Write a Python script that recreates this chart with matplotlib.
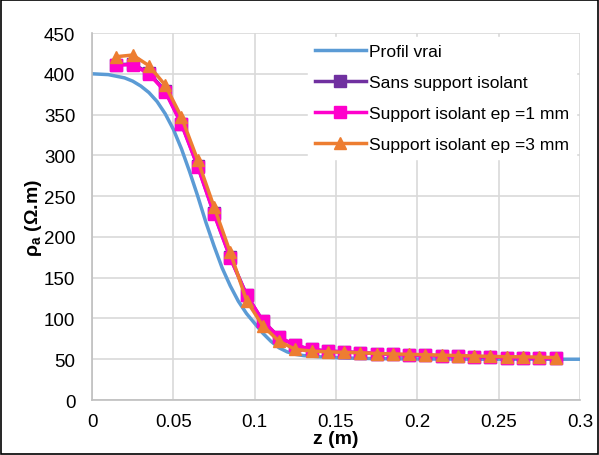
import numpy as np
import matplotlib.pyplot as plt
from matplotlib.patches import Rectangle

plt.rcParams['font.family'] = ['Liberation Sans', 'DejaVu Sans']
plt.rcParams['mathtext.fontset'] = 'custom'
plt.rcParams['mathtext.rm'] = 'Liberation Sans'
plt.rcParams['mathtext.bf'] = 'Liberation Sans:bold'

# true profile
z_true = [0, 0.01, 0.02, 0.025, 0.03, 0.035, 0.04, 0.045, 0.05, 0.055, 0.06, 0.065, 0.07,
          0.075, 0.08, 0.085, 0.09, 0.095, 0.1, 0.105, 0.11, 0.115, 0.12, 0.125,
          0.13, 0.14, 0.15, 0.165, 0.2, 0.25, 0.3]
rho_true = [400, 399, 395, 391, 385, 377, 366, 351, 332, 308, 280, 250, 218,
            189, 162, 140, 121, 106, 94, 82, 72, 64, 59, 56,
            54.5, 53, 52, 51, 50.3, 50, 50]

# measured points
z_meas = [0.015, 0.025, 0.035, 0.045, 0.055, 0.065, 0.075, 0.085, 0.095, 0.105,
          0.115, 0.125, 0.135, 0.145, 0.155, 0.165, 0.175, 0.185, 0.195, 0.205,
          0.215, 0.225, 0.235, 0.245, 0.255, 0.265, 0.275, 0.285]
rho_sans = [411, 412, 401, 379, 339, 287, 229, 175, 129, 97,
            77, 67, 62, 60, 59, 58, 57, 56, 55, 55,
            54, 54, 53, 53, 52, 52, 51, 51]
rho_1mm = [411, 411, 400, 378, 338, 286, 228, 174, 129, 97,
           77, 67, 62, 60, 59, 58, 57, 56, 55, 55,
           54, 54, 53, 53, 52, 52, 51, 51]
rho_3mm = [421, 423, 410, 386, 347, 294, 237, 181, 122, 91,
           72, 62, 60, 59, 58.5, 58, 57, 56.5, 56, 55.5,
           55, 54.5, 54, 53.5, 53, 53, 52.5, 52]

fig = plt.figure(figsize=(5.99, 4.56), dpi=100)
ax = fig.add_axes([0.1536, 0.1206, 0.8146, 0.8048])

ax.plot(z_true, rho_true, color='#5B9BD5', lw=2.5, label='Profil vrai')
ax.plot(z_meas, rho_sans, color='#7030A0', lw=2.5, marker='s', ms=8,
        label='Sans support isolant')
ax.plot(z_meas, rho_1mm, color='#FF00CC', lw=2.5, marker='s', ms=8,
        label='Support isolant ep =1 mm')
ax.plot(z_meas, rho_3mm, color='#ED7D31', lw=2.5, marker='^', ms=8,
        label='Support isolant ep =3 mm')

ax.set_xlim(0, 0.3)
ax.set_ylim(0, 450)
ax.set_xticks(np.arange(0, 0.301, 0.05), labels=['0', '0.05', '0.1', '0.15', '0.2', '0.25', '0.3'])
ax.set_yticks(np.arange(0, 451, 50))
ax.grid(color='#D9D9D9', lw=1.2)
ax.set_axisbelow(True)
for s in ['top', 'right']:
    ax.spines[s].set_visible(False)
for s in ['left', 'bottom']:
    ax.spines[s].set_color('#BFBFBF')
    ax.spines[s].set_linewidth(1.2)
ax.tick_params(length=0, labelsize=13.5)
ax.tick_params(axis='y', pad=12)
ax.tick_params(axis='x', pad=9)

ax.set_xlabel('z (m)', fontsize=14, fontweight='bold', labelpad=0)
ax.set_ylabel(r'ρ$_\mathbf{a}$ (Ω.m)', fontsize=14, fontweight='bold', labelpad=0)

leg = ax.legend(loc='upper right', fontsize=12.6, frameon=True, framealpha=1,
                edgecolor='white', fancybox=False, handlelength=2.9,
                handletextpad=0.2, labelspacing=0.9, borderaxespad=0.2,
                borderpad=0.4)

fig.patches.append(Rectangle((0.002, 0.002), 0.996, 0.996, transform=fig.transFigure,
                             fill=False, edgecolor='black', lw=1.2))

fig.savefig('out.png', dpi=100)
